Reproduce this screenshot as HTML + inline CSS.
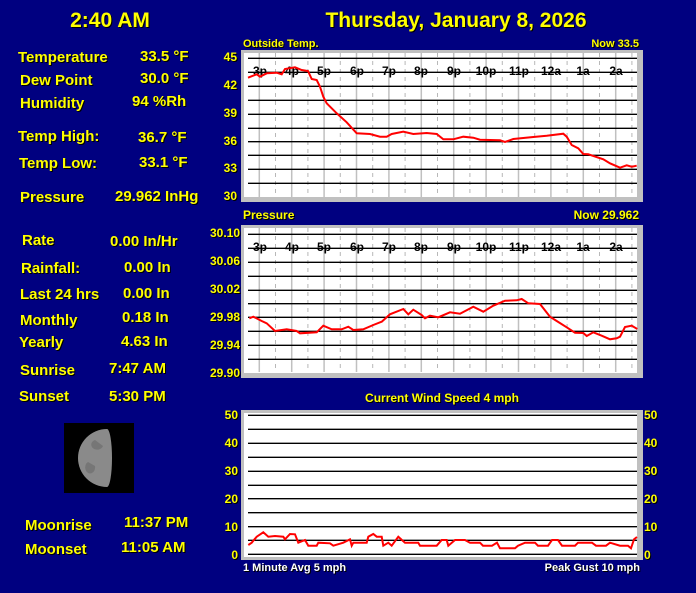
<!DOCTYPE html>
<html><head><meta charset="utf-8"><style>
html,body{margin:0;padding:0;background:#000080;width:696px;height:593px;overflow:hidden}
svg{display:block}
.y{fill:#ffff00;font-family:"Liberation Sans",sans-serif;font-weight:bold;filter:drop-shadow(1px 1px 0 #000)}
.w{fill:#fff;font-family:"Liberation Sans",sans-serif;font-weight:bold;filter:drop-shadow(1px 1px 0 #000)}
.k{fill:#000;font-family:"Liberation Sans",sans-serif;font-weight:bold;font-size:12px}
</style></head><body>
<svg width="696" height="593" viewBox="0 0 696 593" xmlns="http://www.w3.org/2000/svg">
<rect width="696" height="593" fill="#000080"/>
<g class="y" font-size="21">
<text x="110" y="27" text-anchor="middle">2:40 AM</text>
<text x="456" y="27" text-anchor="middle">Thursday, January 8, 2026</text>
</g>
<g class="y" font-size="15">
<text x="18" y="62">Temperature</text><text x="140" y="61">33.5 °F</text>
<text x="20" y="85">Dew Point</text><text x="140" y="83">30.0 °F</text>
<text x="20" y="108">Humidity</text><text x="132" y="106">94 %Rh</text>
<text x="18" y="141">Temp High:</text><text x="138" y="142">36.7 °F</text>
<text x="19" y="168">Temp Low:</text><text x="139" y="167">33.1 °F</text>
<text x="20" y="202">Pressure</text><text x="115" y="201">29.962 InHg</text>
<text x="22" y="245">Rate</text><text x="110" y="246">0.00 In/Hr</text>
<text x="21" y="273">Rainfall:</text><text x="124" y="272">0.00 In</text>
<text x="20" y="299">Last 24 hrs</text><text x="123" y="298">0.00 In</text>
<text x="20" y="325">Monthly</text><text x="122" y="322">0.18 In</text>
<text x="19" y="347">Yearly</text><text x="121" y="346">4.63 In</text>
<text x="20" y="375">Sunrise</text><text x="109" y="373">7:47 AM</text>
<text x="19" y="401">Sunset</text><text x="109" y="401">5:30 PM</text>
<text x="25" y="530">Moonrise</text><text x="124" y="527">11:37 PM</text>
<text x="25" y="554">Moonset</text><text x="121" y="552">11:05 AM</text>
</g>
<rect x="64" y="423" width="70" height="70" fill="#000"/>
<path d="M107,429 A29,29 0 0 0 107,487 A5,29 0 0 0 107,429Z" fill="#8a8a8a"/>
<path d="M95,440 a6,5 0 1 0 8,6 M88,462 a5,6 0 1 0 7,4" fill="#767676"/>

<!-- Temperature panel -->
<text class="y" x="243" y="47" font-size="11">Outside Temp.</text>
<text class="y" x="639" y="47" font-size="11" text-anchor="end">Now 33.5</text>
<rect x="241" y="50" width="402" height="152" fill="#c0c0c0"/>
<rect x="244" y="53" width="393" height="144" fill="#fff"/>
<g id="vgrid">
<g stroke="#c0c0c0" stroke-width="1.5">
<line x1="259.3" y1="53" x2="259.3" y2="197"/><line x1="291.7" y1="53" x2="291.7" y2="197"/><line x1="324.1" y1="53" x2="324.1" y2="197"/><line x1="356.5" y1="53" x2="356.5" y2="197"/><line x1="388.9" y1="53" x2="388.9" y2="197"/><line x1="421.3" y1="53" x2="421.3" y2="197"/><line x1="453.7" y1="53" x2="453.7" y2="197"/><line x1="486.1" y1="53" x2="486.1" y2="197"/><line x1="518.5" y1="53" x2="518.5" y2="197"/><line x1="550.9" y1="53" x2="550.9" y2="197"/><line x1="583.3" y1="53" x2="583.3" y2="197"/><line x1="615.7" y1="53" x2="615.7" y2="197"/>
</g>
<g stroke="#b8b8b8" stroke-dasharray="4,4">
<line x1="275.5" y1="53" x2="275.5" y2="197"/><line x1="307.9" y1="53" x2="307.9" y2="197"/><line x1="340.3" y1="53" x2="340.3" y2="197"/><line x1="372.7" y1="53" x2="372.7" y2="197"/><line x1="405.1" y1="53" x2="405.1" y2="197"/><line x1="437.5" y1="53" x2="437.5" y2="197"/><line x1="469.9" y1="53" x2="469.9" y2="197"/><line x1="502.3" y1="53" x2="502.3" y2="197"/><line x1="534.7" y1="53" x2="534.7" y2="197"/><line x1="567.1" y1="53" x2="567.1" y2="197"/><line x1="599.5" y1="53" x2="599.5" y2="197"/><line x1="631.9" y1="53" x2="631.9" y2="197"/>
</g>
</g>
<g stroke="#000" stroke-width="1.3">
<line x1="248" y1="58.3" x2="637" y2="58.3"/><line x1="248" y1="72.3" x2="637" y2="72.3"/><line x1="248" y1="86.3" x2="637" y2="86.3"/><line x1="248" y1="100.3" x2="637" y2="100.3"/><line x1="248" y1="114.3" x2="637" y2="114.3"/><line x1="248" y1="128.3" x2="637" y2="128.3"/><line x1="248" y1="141.7" x2="637" y2="141.7"/><line x1="248" y1="155.3" x2="637" y2="155.3"/><line x1="248" y1="169.3" x2="637" y2="169.3"/><line x1="248" y1="183.3" x2="637" y2="183.3"/>
</g>
<g class="k" text-anchor="middle">
<text x="260" y="75">3p</text><text x="292" y="75">4p</text><text x="324" y="75">5p</text><text x="357" y="75">6p</text><text x="389" y="75">7p</text><text x="421" y="75">8p</text><text x="454" y="75">9p</text><text x="486" y="75">10p</text><text x="519" y="75">11p</text><text x="551" y="75">12a</text><text x="583" y="75">1a</text><text x="616" y="75">2a</text>
</g>
<g class="y" font-size="12" text-anchor="end">
<text x="237" y="61">45</text><text x="237" y="89">42</text><text x="237" y="117">39</text><text x="237" y="145">36</text><text x="237" y="172">33</text><text x="237" y="200">30</text>
</g>
<polyline fill="none" stroke="#f00" stroke-width="2" points="248,77.7 256.7,74.3 260,76.7 266.7,73.3 276.7,72.7 281.7,74.3 285,69 295,67.3 301.7,70 308,71 311.7,79 316.7,80 320,86.7 323.3,96.7 326.7,103.3 336.7,113.3 346.7,122.3 356.7,133.3 370,134 380,136.7 386.7,136.7 391.7,134 403.3,131.7 413.3,134 426.7,133 436.7,134 443.3,139.3 453.3,139.3 463.3,136.7 473.3,137.7 480,139.7 500,140.3 505,142 513.3,139 533.3,137 546.7,135.7 563.3,133.7 566.7,136.7 571.7,145 578.3,148.3 583.3,154 588.3,154.3 603.3,159.3 610,163.3 620,167.7 626.7,165.3 631.7,166.7 636.7,165.7"/>

<!-- Pressure panel -->
<text class="y" x="243" y="219" font-size="12">Pressure</text>
<text class="y" x="639" y="219" font-size="12" text-anchor="end">Now 29.962</text>
<rect x="241" y="225" width="402" height="153" fill="#c0c0c0"/>
<rect x="244" y="228" width="393" height="145" fill="#fff"/>
<use href="#vgrid" transform="translate(0,175)"/>
<g stroke="#000" stroke-width="1.3">
<line x1="248" y1="234.3" x2="637" y2="234.3"/><line x1="248" y1="248.3" x2="637" y2="248.3"/><line x1="248" y1="262.3" x2="637" y2="262.3"/><line x1="248" y1="276.3" x2="637" y2="276.3"/><line x1="248" y1="290.3" x2="637" y2="290.3"/><line x1="248" y1="303.7" x2="637" y2="303.7"/><line x1="248" y1="317.3" x2="637" y2="317.3"/><line x1="248" y1="331.3" x2="637" y2="331.3"/><line x1="248" y1="345.3" x2="637" y2="345.3"/><line x1="248" y1="359.3" x2="637" y2="359.3"/>
</g>
<g class="k" text-anchor="middle">
<text x="260" y="251">3p</text><text x="292" y="251">4p</text><text x="324" y="251">5p</text><text x="357" y="251">6p</text><text x="389" y="251">7p</text><text x="421" y="251">8p</text><text x="454" y="251">9p</text><text x="486" y="251">10p</text><text x="519" y="251">11p</text><text x="551" y="251">12a</text><text x="583" y="251">1a</text><text x="616" y="251">2a</text>
</g>
<g class="y" font-size="12" text-anchor="end">
<text x="240" y="237">30.10</text><text x="240" y="265">30.06</text><text x="240" y="293">30.02</text><text x="240" y="321">29.98</text><text x="240" y="349">29.94</text><text x="240" y="377">29.90</text>
</g>
<polyline fill="none" stroke="#f00" stroke-width="2" points="249.3,318.3 253.3,316.7 261.7,321 266.7,323.3 275,331 286.7,329.3 296.7,331 300,333.3 316.7,332.3 323.3,325.7 331.7,329.3 341.7,329.3 348.3,326.7 353.3,330 363.3,329.3 373.3,325 381.7,321.7 390,314.3 403.3,309 408.3,314.3 413.3,309.7 421.7,315 425,318.3 430,315.7 438.3,317.3 450,312.3 460,313.7 473.3,306.7 483.3,311.7 493.3,305.7 505,300.7 516.7,300.3 521.7,299 528.3,303.3 540,304 550,316.7 556.7,321 566.7,327.3 575,332.7 583.3,333 586.7,336 593.3,332.3 601.7,335.7 610,339.3 616.7,338.3 620,336.7 625,327 631.7,325.7 637.3,329"/>

<!-- Wind panel -->
<text class="y" x="442" y="402" font-size="12" text-anchor="middle">Current Wind Speed 4 mph</text>
<rect x="241" y="410" width="402" height="150" fill="#c0c0c0"/>
<rect x="244" y="413" width="393" height="144" fill="#fff"/>
<g stroke="#000" stroke-width="1.3">
<line x1="248" y1="415.3" x2="637" y2="415.3"/><line x1="248" y1="429.3" x2="637" y2="429.3"/><line x1="248" y1="443.3" x2="637" y2="443.3"/><line x1="248" y1="457.3" x2="637" y2="457.3"/><line x1="248" y1="471.3" x2="637" y2="471.3"/><line x1="248" y1="485.3" x2="637" y2="485.3"/><line x1="248" y1="498.7" x2="637" y2="498.7"/><line x1="248" y1="512.7" x2="637" y2="512.7"/><line x1="248" y1="526.7" x2="637" y2="526.7"/><line x1="248" y1="540.3" x2="637" y2="540.3"/><line x1="248" y1="554.3" x2="637" y2="554.3"/>
</g>
<g class="y" font-size="12">
<g text-anchor="end"><text x="238" y="419">50</text><text x="238" y="447">40</text><text x="238" y="475">30</text><text x="238" y="503">20</text><text x="238" y="531">10</text><text x="238" y="559">0</text></g>
<text x="644" y="419">50</text><text x="644" y="447">40</text><text x="644" y="475">30</text><text x="644" y="503">20</text><text x="644" y="531">10</text><text x="644" y="559">0</text>
</g>
<g class="w" font-size="11">
<text x="243" y="571">1 Minute Avg 5 mph</text>
<text x="640" y="571" text-anchor="end">Peak Gust 10 mph</text>
</g>
<polyline fill="none" stroke="#f00" stroke-width="2" points="248.3,545 251.7,542.7 256.7,536.7 263.3,532.3 268.3,536.7 275,536 283.3,536.7 285,539.3 290,534 295,534.3 298.3,542.7 305,540 308.3,545.7 316.7,545.7 318.3,542.7 330,543.3 333.3,545.7 343.3,542.7 350,539.3 351.7,545.7 353.3,542.7 366.7,542.7 368.3,536.7 373.3,534 376.7,536.7 381.7,536.7 383.3,545.7 388.3,542.7 391.7,545.7 398.3,536.7 405,542.7 418.3,542.7 420,545.7 436.7,545.7 441.7,540 446.7,540 448.3,545.7 455,540 465,540 470,542.7 480,542.7 483,545.7 492,545.7 497,542.7 500,548.3 515,548.3 518,545.7 525,542.7 535,542.7 538,545.7 548,545.7 552,540 558,540 562,545.7 575,545.7 578,542.7 592,542.7 596,545.7 606,545.7 610,542.7 620,545.7 628,545.7 631,548.3 634,539.3 637,537"/>
</svg>
</body></html>
